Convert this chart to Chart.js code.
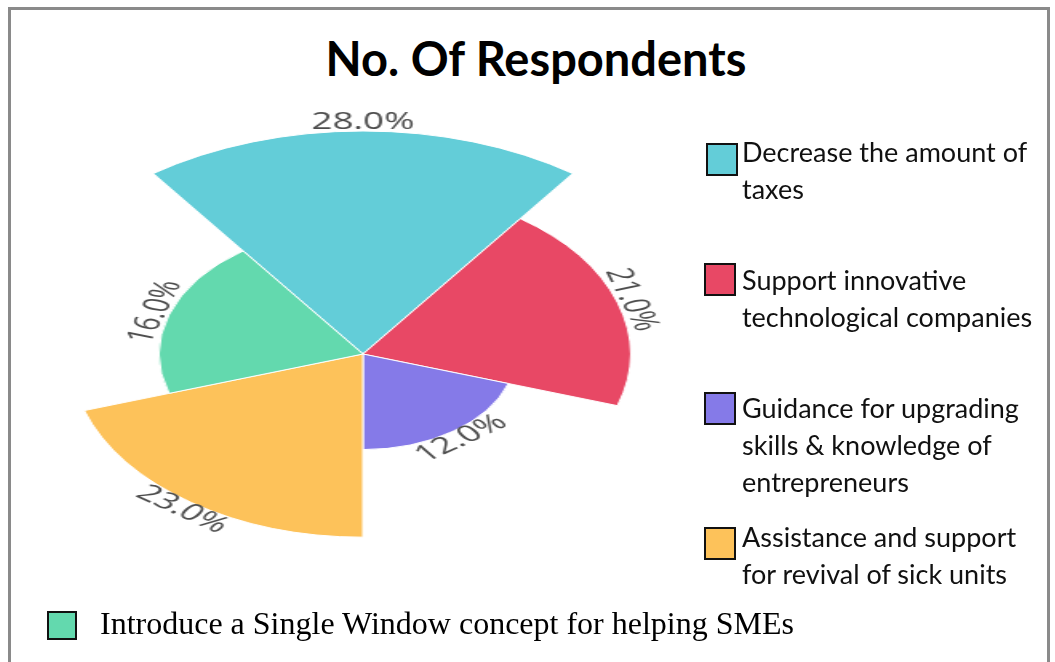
<!DOCTYPE html>
<html>
<head>
<meta charset="utf-8">
<script src="https://cdn.jsdelivr.net/npm/chart.js@4.4.1/dist/chart.umd.min.js"></script>
<style>
  body { margin: 0; background: #fff; width: 1055px; height: 662px; overflow: hidden; position: relative; }
  #frame { position: absolute; left: 8px; top: 7px; width: 1042px; height: 700px; border: 3px solid #8a8a8a; border-bottom: none; box-sizing: border-box; }
  #title { position: absolute; left: 0; top: 35px; width: 1072px; text-align: center; font: bold 47px Lato, sans-serif; line-height: 47px; color: #000; }
  #wrap { position: absolute; left: 103px; top: 94px; width: 520px; height: 520px; transform: scaleX(1.6); transform-origin: 260px 260px; }
  .key { position: absolute; box-sizing: border-box; border: 2px solid #111; }
  .lbl { position: absolute; left: 742px; font: 27px Lato, sans-serif; line-height: 37px; color: #111; white-space: nowrap; }
  #bottom { position: absolute; left: 100px; top: 605px; font: 32px "Liberation Serif", serif; line-height: 36px; color: #000; white-space: nowrap; }
</style>
</head>
<body>
<div id="frame"></div>
<div id="title">No. Of Respondents</div>
<div id="wrap"><canvas id="rose" width="520" height="520"></canvas></div>
<div id="legend"></div>
<script>
// Survey answers, in drawing order (clockwise from the top slice)
const categories = [
    'Decrease the amount of taxes',
    'Support innovative technological companies',
    'Guidance for upgrading skills & knowledge of entrepreneurs',
    'Assistance and support for revival of sick units',
    'Introduce a Single Window concept for helping SMEs'
];
const percents = [28.0, 21.0, 12.0, 23.0, 16.0];
const colors = ['#63cdd8', '#e84865', '#857ae8', '#fdc25a', '#63d9ae'];

// Legend text broken into lines the way the side legend shows it
const legendLines = [
    ['Decrease the amount of', 'taxes'],
    ['Support innovative', 'technological companies'],
    ['Guidance for upgrading', 'skills & knowledge of', 'entrepreneurs'],
    ['Assistance and support', 'for revival of sick units']
];
const legendTops = [133, 261, 389, 518];
const keyBoxes = [[706, 143], [704, 263], [704, 392], [704, 527]];

// Percent labels written along the outside of each slice
const sliceLabels = {
    id: 'sliceLabels',
    afterDatasetsDraw(chart) {
        const ctx = chart.ctx;
        const meta = chart.getDatasetMeta(0);
        meta.data.forEach((arc, i) => {
            const p = arc.getProps(['x', 'y', 'startAngle', 'endAngle', 'outerRadius'], true);
            const mid = (p.startAngle + p.endAngle) / 2;
            const r = p.outerRadius + 9;
            ctx.save();
            ctx.translate(p.x + Math.cos(mid) * r, p.y + Math.sin(mid) * r);
            ctx.rotate(Math.sin(mid) > 0.01 ? mid - Math.PI / 2 : mid + Math.PI / 2);
            ctx.font = '23px "Open Sans", sans-serif';
            ctx.fillStyle = '#4d4d4d';
            ctx.textAlign = 'center';
            ctx.textBaseline = 'middle';
            ctx.fillText(percents[i].toFixed(1) + '%', 0, 0);
            ctx.restore();
        });
    }
};

new Chart(document.getElementById('rose'), {
    type: 'polarArea',
    data: {
        labels: categories,
        datasets: [{
            data: percents,
            backgroundColor: colors,
            borderColor: '#ffffff',
            borderWidth: 1
        }]
    },
    options: {
        responsive: false,
        animation: false,
        layout: { padding: 37 },
        plugins: {
            legend: { display: false },
            tooltip: { enabled: false }
        },
        scales: {
            r: {
                min: 0,
                max: Math.max(...percents),
                startAngle: -36,
                ticks: { display: false },
                grid: { display: false },
                angleLines: { display: false },
                pointLabels: { display: false }
            }
        }
    },
    plugins: [sliceLabels]
});

// Side legend (first four answers) and the separate line for the last one
const legend = document.getElementById('legend');
legendLines.forEach((lines, i) => {
    const box = document.createElement('div');
    box.className = 'key';
    box.style.cssText = `left:${keyBoxes[i][0]}px;top:${keyBoxes[i][1]}px;width:32px;height:33px;background:${colors[i]}`;
    legend.appendChild(box);
    const txt = document.createElement('div');
    txt.className = 'lbl';
    txt.style.top = legendTops[i] + 'px';
    txt.innerHTML = lines.join('<br>');
    legend.appendChild(txt);
});
const lastBox = document.createElement('div');
lastBox.className = 'key';
lastBox.style.cssText = `left:47px;top:611px;width:30px;height:29px;background:${colors[4]}`;
legend.appendChild(lastBox);
const last = document.createElement('div');
last.id = 'bottom';
last.textContent = categories[4];
legend.appendChild(last);
</script>
</body>
</html>
